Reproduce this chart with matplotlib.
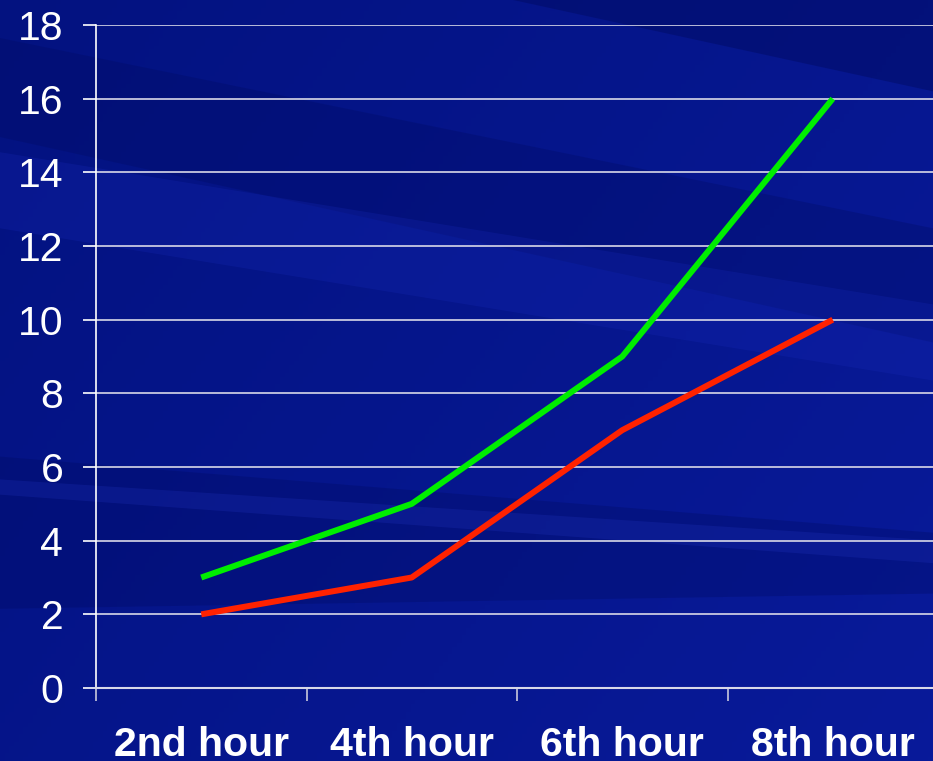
import numpy as np
import matplotlib
matplotlib.use("Agg")
from matplotlib import pyplot as plt
from matplotlib.patches import Polygon

categories = ["2nd hour", "4th hour", "6th hour", "8th hour"]
green_vals = [3, 5, 9, 16]
red_vals = [2, 3, 7, 10]
y_ticks = [0, 2, 4, 6, 8, 10, 12, 14, 16, 18]

plt.rcParams['font.family'] = ['Liberation Sans', 'DejaVu Sans']

fig = plt.figure(figsize=(9.33, 7.61), dpi=100)

# background: blue gradient with a few diagonal streaks
bg = fig.add_axes([0, 0, 1, 1])
bg.set_xlim(0, 1)
bg.set_ylim(0, 1)
bg.axis('off')
gx, gy = np.meshgrid(np.linspace(0, 1, 200), np.linspace(0, 1, 200))
t = 0.5 * gx + 0.3 * (1 - gy)
c0 = np.array([0x03, 0x12, 0x80]) / 255.0
c1 = np.array([0x0a, 0x1c, 0xa0]) / 255.0
img = c0[None, None, :] * (1 - t[..., None]) + c1[None, None, :] * t[..., None]
bg.imshow(img, extent=[0, 1, 0, 1], origin='lower', aspect='auto', zorder=0)
streaks = [
    ([(0.25, 1.0), (1.0, 1.0), (1.0, 0.88), (0.55, 1.0)], '#000a60', 0.45),
    ([(0.0, 0.95), (0.0, 0.82), (1.0, 0.55), (1.0, 0.70)], '#000a60', 0.3),
    ([(0.0, 0.80), (0.0, 0.70), (1.0, 0.50), (1.0, 0.60)], '#1a2cc0', 0.22),
    ([(0.0, 0.40), (0.0, 0.20), (1.0, 0.22), (1.0, 0.30)], '#000a60', 0.3),
    ([(0.0, 0.37), (0.0, 0.35), (1.0, 0.26), (1.0, 0.29)], '#2a3cd0', 0.2),
]
for pts, col, a in streaks:
    bg.add_patch(Polygon(pts, closed=True, color=col, alpha=a, lw=0, zorder=1))

ax = fig.add_axes([96 / 933, 73 / 761, 842 / 933, 663 / 761])
ax.patch.set_alpha(0)
x = np.arange(len(categories))
ax.plot(x, green_vals, color='#00ee00', lw=4.3, solid_capstyle='butt', zorder=3)
ax.plot(x, red_vals, color='#ff2200', lw=4.3, solid_capstyle='butt', zorder=3)

ax.set_xlim(-0.5, len(categories) - 0.5)
ax.set_ylim(0, 18)
ax.set_yticks(y_ticks)
ax.set_yticklabels([str(v) for v in y_ticks])
ax.set_xticks(x - 0.5, minor=False)
ax.set_xticklabels([''] * len(x))
ax.set_xticks(x, minor=True)
ax.set_xticklabels(categories, minor=True)

ax.grid(axis='y', color='#d8d8e8', lw=1.2)
ax.set_axisbelow(True)
for s in ['top', 'right']:
    ax.spines[s].set_visible(False)
ax.spines['left'].set_color('white')
ax.spines['bottom'].set_color('#d8d8e8')
ax.spines['left'].set_linewidth(1.2)
ax.spines['bottom'].set_linewidth(1.5)

ax.tick_params(axis='y', colors='white', labelsize=29.5, length=9.5, width=1.2, pad=14)
ax.tick_params(axis='x', which='major', colors='#c8c8dc', length=9, width=1.2)
ax.tick_params(axis='x', which='minor', length=0, labelsize=29.5, labelcolor='white', pad=27)
for lbl in ax.get_xticklabels(minor=True):
    lbl.set_fontweight('bold')

plt.savefig("out.png", dpi=100)
